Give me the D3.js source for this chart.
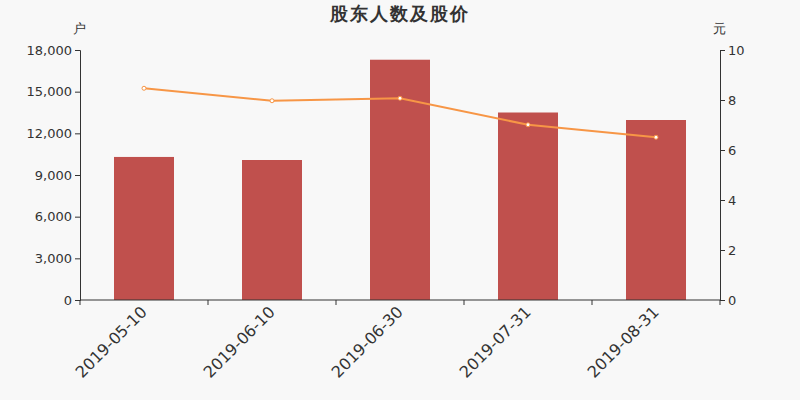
<!DOCTYPE html>
<html><head><meta charset="utf-8">
<script src="https://cdn.jsdelivr.net/npm/d3@7/dist/d3.min.js"></script>
<style>body{margin:0;background:#f8f8f8;}svg{display:block;font-family:"DejaVu Sans",sans-serif;}</style>
</head><body><svg id="c" width="800" height="400"></svg>
<script>
const categories = ["2019-05-10","2019-06-10","2019-06-30","2019-07-31","2019-08-31"];
const holders = [10300, 10080, 17300, 13500, 12960];
const prices = [8.47, 7.97, 8.07, 7.01, 6.51];
const leftTicks = [0,3000,6000,9000,12000,15000,18000];
const rightTicks = [0,2,4,6,8,10];
const title = "股东人数及股价";
const leftUnit = "户", rightUnit = "元";

const svg = d3.select("#c");
const m = {l:80, r:80, t:50, b:100};
const W = 800, H = 400;
svg.append("rect").attr("width",W).attr("height",H).attr("fill","#f8f8f8");
const x = d3.scaleBand().domain(categories).range([m.l, W-m.r]);
const yL = d3.scaleLinear().domain([0,18000]).range([H-m.b, m.t]);
const yR = d3.scaleLinear().domain([0,10]).range([H-m.b, m.t]);
const fmt = d3.format(",");

// bars
svg.append("g").selectAll("rect").data(holders).join("rect")
  .attr("x",(d,i)=>x(categories[i])+x.bandwidth()/2-30)
  .attr("width",60)
  .attr("y",d=>yL(d))
  .attr("height",d=>yL(0)-yL(d))
  .attr("fill","#c0504d");

// line
const line = d3.line().x((d,i)=>x(categories[i])+x.bandwidth()/2).y(d=>yR(d));
svg.append("path").datum(prices).attr("d",line).attr("fill","none")
  .attr("stroke","#f79646").attr("stroke-width",2);
svg.append("g").selectAll("circle").data(prices).join("circle")
  .attr("cx",(d,i)=>x(categories[i])+x.bandwidth()/2).attr("cy",d=>yR(d))
  .attr("r",2).attr("fill","#fff").attr("stroke","#f79646").attr("stroke-width",1);

// axes
const axisColor="#333";
const gL = svg.append("g").attr("transform",`translate(${m.l},0)`)
  .call(d3.axisLeft(yL).tickValues(leftTicks).tickFormat(fmt).tickSizeOuter(0).tickSize(5));
const gR = svg.append("g").attr("transform",`translate(${W-m.r},0)`)
  .call(d3.axisRight(yR).tickValues(rightTicks).tickSizeOuter(0).tickSize(5));
const xTicks = d3.range(categories.length+1).map(i=>m.l + i*x.step());
const gX = svg.append("g").attr("transform",`translate(0,${H-m.b})`);
gX.append("line").attr("x1",m.l).attr("x2",W-m.r).attr("stroke",axisColor);
gX.selectAll("line.t").data(xTicks).join("line").attr("class","t")
  .attr("x1",d=>d).attr("x2",d=>d).attr("y1",0).attr("y2",5).attr("stroke",axisColor);
gX.selectAll("text").data(categories).join("text")
  .attr("transform",d=>`translate(${x(d)+x.bandwidth()/2+4},${13}) rotate(-45)`)
  .attr("text-anchor","end").attr("font-size",16).attr("fill",axisColor).text(d=>d);

[gL,gR].forEach(g=>{
  g.selectAll("path,line").attr("stroke",axisColor);
  g.selectAll("text").attr("font-size",13).attr("fill",axisColor).attr("font-family","DejaVu Sans");
});

svg.append("text").attr("x",400).attr("y",20).attr("text-anchor","middle")
  .attr("font-size",18).attr("font-weight","bold").attr("fill","#333")
  .attr("letter-spacing",2).text(title);
svg.append("text").attr("x",79).attr("y",33).attr("text-anchor","middle")
  .attr("font-size",13).attr("fill","#333").text(leftUnit);
svg.append("text").attr("x",719).attr("y",33).attr("text-anchor","middle")
  .attr("font-size",13).attr("fill","#333").text(rightUnit);
</script></body></html>
